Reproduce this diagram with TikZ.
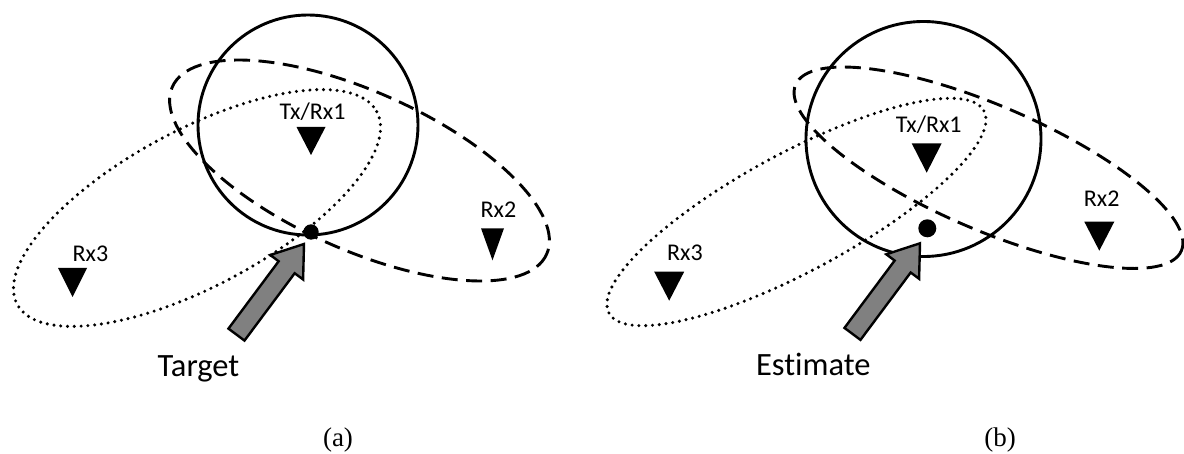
\documentclass[tikz,border=0pt]{standalone}
\usepackage{fontspec}
\newfontfamily\labelfont[Ligatures=NoCommon]{Carlito}
\newfontfamily\panelfont{Liberation Serif}
\definecolor{arrowgray}{RGB}{128,128,128}

% filled marker triangle: #1 top centre, #2 base width, #3 height
\newcommand\rxtri[3]{\fill (#1) ++(-#2/2,0) -- ++(#2,0) -- ++(-#2/2,#3) -- cycle;}
% block arrow whose tip sits on #1, pointing up and to the right
\newcommand\fatarrow[1]{%
  \filldraw[fat, shift={(#1)}, rotate=233.3]
    (0,0) -- (29,20.5) -- (29,10) -- (113,10) -- (113,-10) -- (29,-10) -- (29,-20.5) -- cycle;}

\begin{document}
\begin{tikzpicture}[x=1pt,y=-1pt,
  ring/.style={line width=2.9pt},
  dashring/.style={line width=2.9pt, dash pattern=on 16pt off 8.5pt},
  dotring/.style={line width=3.4pt, line cap=round, dash pattern=on 0pt off 6.8pt},
  lbl/.style={font=\labelfont\fontsize{24}{28}\selectfont, inner sep=0pt, anchor=base},
  big/.style={font=\labelfont\fontsize{32.5}{38}\selectfont, inner sep=0pt, anchor=base},
  panel/.style={font=\panelfont\fontsize{27}{32}\selectfont, inner sep=0pt},
  spot/.style={circle, fill=black, inner sep=0pt},
  fat/.style={fill=arrowgray, draw=black, line width=2.4pt, line join=miter}]

\fill[white] (0,0) rectangle (1184,454);
\useasboundingbox (0,0) rectangle (1184,454);

% ---------------- panel (a) ----------------
\coordinate (ringA) at (308,125);
\coordinate (dashA) at (359.5,170.5);
\coordinate (dotA)  at (197,208);
\draw[ring] (ringA) circle[radius=110];
\draw[dashring, rotate around={-24.1:(dashA)}] (dashA) ellipse[x radius=205, y radius=79];
\draw[dotring, rotate around={28.2:(dotA)}] (dotA) ellipse[x radius=204, y radius=78];

\coordinate (txA)  at (311,127);
\coordinate (rx2A) at (492.5,228.3);
\coordinate (rx3A) at (72.5,268);
\rxtri{txA}{29}{28}
\rxtri{rx2A}{23}{32}
\rxtri{rx3A}{29}{29}
\node[lbl] (txlA)  at (312.5,120) {Tx/Rx1};
\node[lbl] (rx2lA) at (498.5,217.7) {Rx2};
\node[lbl] (rx3lA) at (90.5,261.7) {Rx3};

\coordinate (tipA) at (304,244);
\fatarrow{tipA}
\node[spot, minimum size=15.4pt] (tgtA) at (311,232) {};
\node[big] (target) at (198.5,377) {Target};
\node[panel] (capA) at (338,440) {(a)};

% ---------------- panel (b) ----------------
\coordinate (ringB) at (923.5,139);
\coordinate (dashB) at (988.5,167.75);
\coordinate (dotB)  at (796.5,212);
\draw[ring] (ringB) circle[radius=117.5];
\draw[dashring, rotate around={-23.3:(dashB)}] (dashB) ellipse[x radius=210, y radius=62];
\draw[dotring, rotate around={28.35:(dotB)}] (dotB) ellipse[x radius=213, y radius=59];

\coordinate (txB)  at (926.7,143.3);
\coordinate (rx2B) at (1099.3,221.7);
\coordinate (rx3B) at (669.2,271.7);
\rxtri{txB}{30}{29.4}
\rxtri{rx2B}{30}{29}
\rxtri{rx3B}{30}{29}
\node[lbl] (txlB)  at (928.7,132.7) {Tx/Rx1};
\node[lbl] (rx2lB) at (1101.7,206.7) {Rx2};
\node[lbl] (rx3lB) at (685,261) {Rx3};

\coordinate (tipB) at (920,243.3);
\fatarrow{tipB}
\node[spot, minimum size=18pt] (estB) at (927.3,228.3) {};
\node[big] (estimate) at (813.3,376) {Estimate};
\node[panel] (capB) at (1000,440) {(b)};
\end{tikzpicture}
\end{document}
